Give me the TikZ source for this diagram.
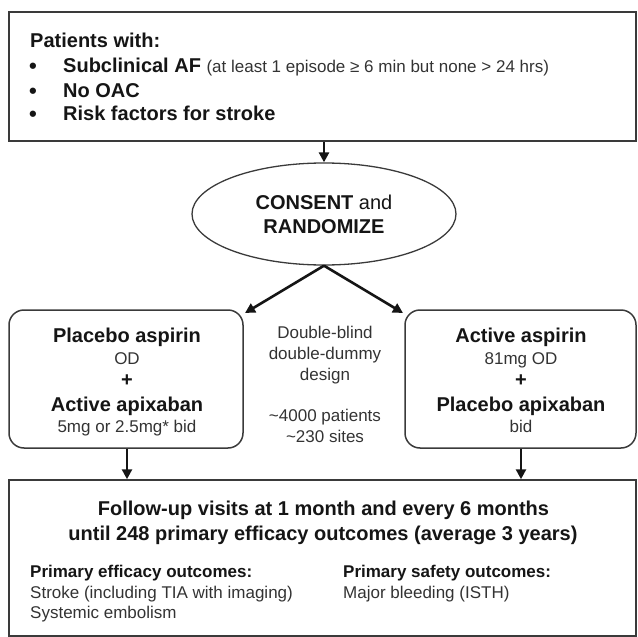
\documentclass[tikz,border=0pt]{standalone}
\usepackage{fontspec}
\setmainfont{Liberation Sans}
\usetikzlibrary{arrows.meta,shapes.geometric}

\definecolor{ink}{HTML}{151515}
\definecolor{soft}{HTML}{333333}
\definecolor{edge}{HTML}{3A3A3A}

\tikzset{
  box/.style={draw=edge, line width=1.5pt, rectangle, inner sep=0pt},
  rbox/.style={box, rounded corners=15pt},
  oval/.style={draw=edge, line width=1.3pt, ellipse, inner sep=0pt, align=center,
               font=\fontsize{20}{24}\selectfont, text=ink},
  hd/.style={font=\fontsize{20}{24}\selectfont\bfseries, text=ink, inner sep=0pt},
  tx/.style={font=\fontsize{17}{20}\selectfont, text=soft, inner sep=0pt},
  txb/.style={font=\fontsize{17}{20}\selectfont\bfseries, text=ink, inner sep=0pt},
  dot/.style={font=\fontsize{22}{24}\selectfont\bfseries, text=ink, inner sep=0pt},
  arr/.style={draw=ink, line width=2.6pt, -{Triangle[length=10pt,width=10pt]}},
}

\begin{document}
\begin{tikzpicture}[x=1pt,y=-1pt]
\useasboundingbox (0,0) rectangle (638,637);

% inclusion criteria
\node[box, minimum width=627pt, minimum height=129pt] (incl) at (322.5,76.5) {};
\node[hd, anchor=base west] (pw) at (30,47) {Patients with:};
\node[dot, anchor=base] (b1) at (33,73) {\textbullet};
\node[dot, anchor=base] (b2) at (33,98) {\textbullet};
\node[dot, anchor=base] (b3) at (33,121) {\textbullet};
\node[hd, anchor=base west] (c1) at (63,72) {Subclinical AF {\fontsize{17}{20}\selectfont\mdseries\color{soft}(at least 1 episode ≥ 6 min but none > 24 hrs)}};
\node[hd, anchor=base west] (c2) at (63,97) {No OAC};
\node[hd, anchor=base west] (c3) at (63,120) {Risk factors for stroke};

% randomisation
\node[oval, minimum width=264pt, minimum height=102pt] (rand) at (324,214)
  {\textbf{CONSENT} and\\\textbf{RANDOMIZE}};

% treatment arms
\node[rbox, minimum width=234pt, minimum height=138pt] (armA) at (126,379) {};
\node[rbox, minimum width=231pt, minimum height=138pt] (armB) at (520.5,379) {};

\node[hd, anchor=base] (a1) at (127,342) {Placebo aspirin};
\node[tx, anchor=base] (a2) at (127,364) {OD};
\node[hd, anchor=base] (a3) at (127,386) {+};
\node[hd, anchor=base] (a4) at (127,411) {Active apixaban};
\node[tx, anchor=base] (a5) at (127,432) {5mg or 2.5mg* bid};

\node[hd, anchor=base] (p1) at (521,342) {Active aspirin};
\node[tx, anchor=base] (p2) at (521,364) {81mg OD};
\node[hd, anchor=base] (p3) at (521,386) {+};
\node[hd, anchor=base] (p4) at (521,411) {Placebo apixaban};
\node[tx, anchor=base] (p5) at (521,432) {bid};

% design notes
\node[tx, anchor=base] (d1) at (325,338) {Double-blind};
\node[tx, anchor=base] (d2) at (325,359) {double-dummy};
\node[tx, anchor=base] (d3) at (325,380) {design};
\node[tx, anchor=base] (d4) at (325,421) {\textasciitilde 4000 patients};
\node[tx, anchor=base] (d5) at (325,442) {\textasciitilde 230 sites};

% follow-up and outcomes
\node[box, minimum width=627pt, minimum height=156pt] (fu) at (322.5,558) {};
\node[hd, anchor=base] (f1) at (323.5,515) {Follow-up visits at 1 month and every 6 months};
\node[hd, anchor=base] (f2) at (323,540) {until 248 primary efficacy outcomes (average 3 years)};
\node[txb, anchor=base west] (e1) at (30,577) {Primary efficacy outcomes:};
\node[tx, anchor=base west] (e2) at (30,598) {Stroke (including TIA with imaging)};
\node[tx, anchor=base west] (e3) at (30,618) {Systemic embolism};
\node[txb, anchor=base west] (s1) at (343,577) {Primary safety outcomes:};
\node[tx, anchor=base west] (s2) at (343,598) {Major bleeding (ISTH)};

% flow
\coordinate (tipA) at (245,313);
\coordinate (tipB) at (403,313);
\draw[arr] (incl.south -| rand.north) -- (rand.north);
\draw[arr] (rand.south) -- (tipA);
\draw[arr] (rand.south) -- (tipB);
\draw[arr] (armA.south -| a5.south) -- (fu.north -| a5.south);
\draw[arr] (armB.south -| p5.south) -- (fu.north -| p5.south);
\end{tikzpicture}
\end{document}
